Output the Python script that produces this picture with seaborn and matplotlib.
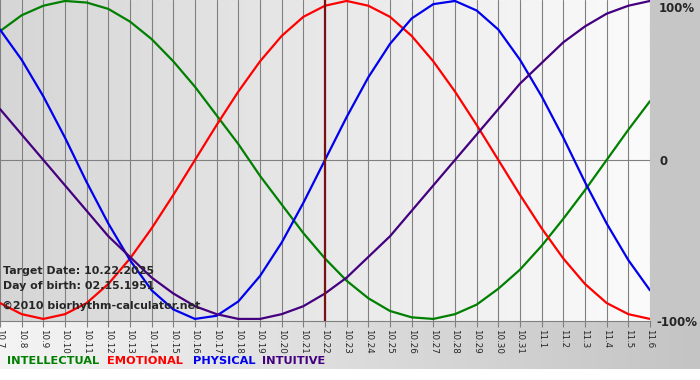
import numpy as np
import pandas as pd
import matplotlib
matplotlib.use("Agg")
import matplotlib.pyplot as plt
import seaborn as sns
from matplotlib.colors import LinearSegmentedColormap
from matplotlib.patches import Rectangle
import matplotlib.transforms as mtransforms

# Day labels (month.day), 10.7 .. 11.6
days = ["10.7", "10.8", "10.9", "10.10", "10.11", "10.12", "10.13", "10.14",
        "10.15", "10.16", "10.17", "10.18", "10.19", "10.20", "10.21", "10.22",
        "10.23", "10.24", "10.25", "10.26", "10.27", "10.28", "10.29", "10.30",
        "10.31", "11.1", "11.2", "11.3", "11.4", "11.5", "11.6"]

# Cycle values (-1 .. 1)
intellectual = [0.81, 0.91, 0.97, 1.00, 0.99, 0.95, 0.87, 0.76, 0.62, 0.46, 0.28,
                0.10, -0.10, -0.28, -0.46, -0.62, -0.76, -0.87, -0.95, -0.99, -1.00,
                -0.97, -0.91, -0.81, -0.69, -0.54, -0.37, -0.19, 0.00, 0.19, 0.37]
emotional = [-0.90, -0.97, -1.00, -0.97, -0.90, -0.78, -0.62, -0.43, -0.22, 0.00, 0.22,
             0.43, 0.62, 0.78, 0.90, 0.97, 1.00, 0.97, 0.90, 0.78, 0.62,
             0.43, 0.22, 0.00, -0.22, -0.43, -0.62, -0.78, -0.90, -0.97, -1.00]
physical = [0.82, 0.63, 0.40, 0.14, -0.14, -0.40, -0.63, -0.82, -0.94, -1.00, -0.98,
            -0.89, -0.73, -0.52, -0.27, 0.00, 0.27, 0.52, 0.73, 0.89, 0.98,
            1.00, 0.94, 0.82, 0.63, 0.40, 0.14, -0.14, -0.40, -0.63, -0.82]
intuitive = [0.32, 0.16, 0.00, -0.16, -0.32, -0.48, -0.61, -0.74, -0.84, -0.92, -0.97,
             -1.00, -1.00, -0.97, -0.92, -0.84, -0.74, -0.61, -0.48, -0.32, -0.16,
             0.00, 0.16, 0.32, 0.48, 0.61, 0.74, 0.84, 0.92, 0.97, 1.00]

target_day = "10.22"
series_names = ["INTELLECTUAL", "EMOTIONAL", "PHYSICAL", "INTUITIVE"]
colors = {"INTELLECTUAL": "#007f00", "EMOTIONAL": "#ff0000",
          "PHYSICAL": "#0000ee", "INTUITIVE": "#44007f"}

# long-form table for seaborn
frames = []
for name, vals in zip(series_names, [intellectual, emotional, physical, intuitive]):
    frames.append(pd.DataFrame({"day": np.arange(len(days)), "value": vals, "cycle": name}))
df = pd.concat(frames, ignore_index=True)

sns.set_style("white")
plt.rcParams["font.family"] = ["DejaVu Sans"]

fig = plt.figure(figsize=(7, 3.8), dpi=100, facecolor="white")

# background panels in pixel coordinates
bg = fig.add_axes([0, 0, 1, 1], zorder=-1)
bg.axis("off")
bottom_cmap = LinearSegmentedColormap.from_list("bot", ["#f4f4f4", "#c4c4c4"])
bg.imshow(np.linspace(0, 1, 256).reshape(1, -1), cmap=bottom_cmap, aspect="auto",
          extent=[0, 700, 369, 321], zorder=0)
bg.add_patch(Rectangle((650, 0), 50, 321, color="#c6c6c6", zorder=1))
bg.set_xlim(0, 700)
bg.set_ylim(380, 0)

ax = fig.add_axes([0, 59 / 380, 650 / 700, 321 / 380])
ax.set_facecolor("none")
plot_cmap = LinearSegmentedColormap.from_list("plot", ["#d6d6d6", "#fbfbfb"])
ymin, ymax = -1.013, 1.006
xmax = len(days) - 1
ax.imshow(np.linspace(0, 1, 256).reshape(1, -1), cmap=plot_cmap, aspect="auto",
          extent=[0, xmax, ymin, ymax], zorder=0)

# grid
for i in range(len(days)):
    ax.axvline(i, color="#808080", lw=0.8, zorder=1)
ax.axhline(0, color="#808080", lw=0.8, zorder=1)

sns.lineplot(data=df, x="day", y="value", hue="cycle", palette=colors,
             hue_order=series_names, linewidth=1.6, legend=False, ax=ax, zorder=3)

ax.axvline(days.index(target_day), color="#7a1010", lw=1.6, zorder=4)

ax.set_xlim(0, xmax)
ax.set_ylim(ymin, ymax)
ax.set_xlabel("")
ax.set_ylabel("")
ax.set_yticks([])
ax.set_xticks(range(len(days)))
ax.set_xticklabels(days)
ax.tick_params(axis="x", length=4, width=0.8, color="#808080", pad=2,
               labelsize=6.3, labelrotation=-90, bottom=True)
for s in ["top", "left", "right"]:
    ax.spines[s].set_visible(False)
ax.spines["bottom"].set_color("#808080")
ax.spines["bottom"].set_linewidth(0.8)

# right side percentage labels
trans = mtransforms.blended_transform_factory(ax.transAxes, ax.transData)
ax.text(1.013, 0.955, "100%", transform=trans, fontsize=8.5, fontweight="bold",
        va="center", ha="left", clip_on=False)
ax.text(1.014, -0.012, "0", transform=trans, fontsize=8.5, fontweight="bold",
        va="center", ha="left", clip_on=False)
ax.text(1.010, -1.02, "-100%", transform=trans, fontsize=8.5, fontweight="bold",
        va="center", ha="left", clip_on=False)

# info texts
ax.text(0.005, 0.156, "Target Date: 10.22.2025", transform=ax.transAxes,
        fontsize=7.9, fontweight="bold", va="center", zorder=5)
ax.text(0.005, 0.109, "Day of birth: 02.15.1951", transform=ax.transAxes,
        fontsize=7.9, fontweight="bold", va="center", zorder=5)
ax.text(0.003, 0.047, "\u00a92010 biorhythm-calculator.net", transform=ax.transAxes,
        fontsize=7.9, fontweight="bold", va="center", zorder=5)

# coloured legend words along the bottom
starts = [7, 107, 193, 262]
for name, x0 in zip(series_names, starts):
    fig.text(x0 / 700, 1 - 361 / 380, name, color=colors[name], fontsize=8.2,
             fontweight="bold", va="center", ha="left")

fig.savefig("out.png", dpi=100, facecolor="white")
